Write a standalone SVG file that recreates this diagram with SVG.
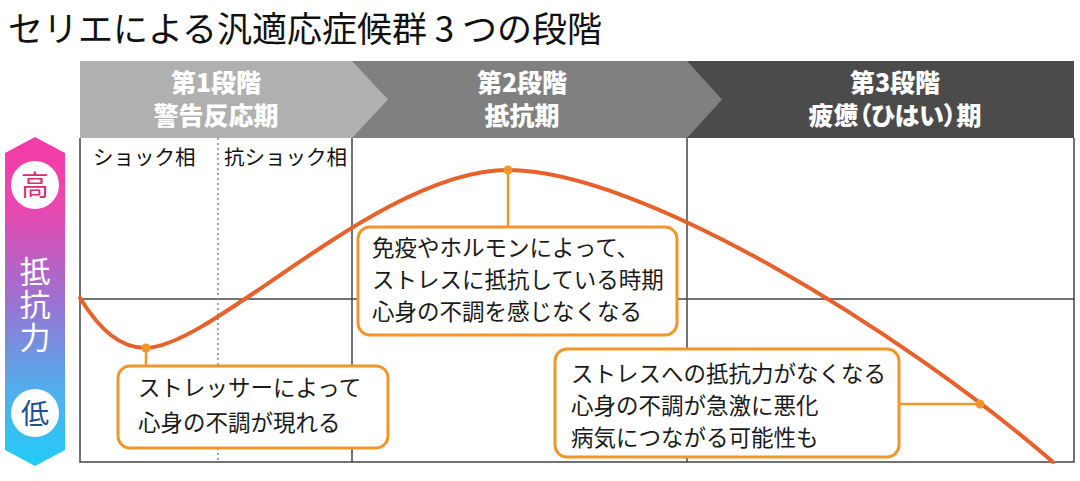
<svg xmlns="http://www.w3.org/2000/svg" width="1080" height="481" viewBox="0 0 1080 481">
<defs>
<linearGradient id="gauge" x1="0" y1="0" x2="0" y2="1">
<stop offset="0" stop-color="#f53aa6"/>
<stop offset="0.22" stop-color="#e848b0"/>
<stop offset="0.5" stop-color="#9a72d2"/>
<stop offset="0.78" stop-color="#4fb0ee"/>
<stop offset="1" stop-color="#22ccf5"/>
</linearGradient>
<style>
.jp{font-family:"Noto Sans CJK JP","Noto Sans",sans-serif;}
.title{font-size:35px;fill:#111;}
.hd{font-size:25px;font-weight:900;fill:#fff;text-anchor:middle;}
.palt{font-feature-settings:"palt";}
.sub{font-size:20.5px;fill:#111;}
.body{font-size:22.5px;fill:#1a1a1a;}
.grid{stroke:#444;stroke-width:1.5;fill:none;}
.box{fill:#fff;stroke:#f0962a;stroke-width:3;}
.lead{stroke:#f0962a;stroke-width:2.5;fill:none;}
.dot{fill:#f0962a;}
.curve{stroke:#e8602a;stroke-width:4;fill:none;stroke-linecap:round;}
</style>
</defs>

<text class="jp title" x="8" y="42">セリエによる汎適応症候群 3 つの段階</text>

<g id="gauge-node">
<polygon points="35,137 65,153 65,450 35,466 5,450 5,153" fill="url(#gauge)"/>
<circle cx="35" cy="185" r="24" fill="#fff"/>
<text class="jp" x="35" y="195.5" font-size="28" fill="#d6306e" text-anchor="middle">高</text>
<text class="jp" x="35" y="305" font-size="31" fill="#fff" text-anchor="middle" writing-mode="vertical-rl" letter-spacing="2">抵抗力</text>
<circle cx="35" cy="413" r="24" fill="#fff"/>
<text class="jp" x="35" y="423.5" font-size="28" fill="#1d4f94" text-anchor="middle">低</text>
</g>

<g id="stage3">
<rect x="687" y="61" width="387" height="77" fill="#4b4b4b"/>
<text class="jp hd" x="895" y="92">第3段階</text>
<text class="jp hd palt" x="895" y="125">疲憊（ひはい）期</text>
</g>
<g id="stage2">
<polygon points="352,61 687,61 722,99.5 687,138 352,138" fill="#808080"/>
<text class="jp hd" x="522" y="92">第2段階</text>
<text class="jp hd" x="522" y="125">抵抗期</text>
</g>
<g id="stage1">
<polygon points="80,61 352,61 388,99.5 352,138 80,138" fill="#b0b0b0"/>
<text class="jp hd" x="216" y="92">第1段階</text>
<text class="jp hd" x="216" y="125">警告反応期</text>
</g>

<g id="chart-grid">
<path class="grid" d="M80,138 V462 H1074 V138"/>
<line class="grid" x1="352" y1="138" x2="352" y2="462"/>
<line class="grid" x1="687" y1="138" x2="687" y2="462"/>
<line class="grid" x1="80" y1="299" x2="1074" y2="299"/>
<line x1="218" y1="138" x2="218" y2="462" stroke="#888" stroke-width="1.5" stroke-dasharray="2,3"/>
</g>

<g id="phase-labels">
<text class="jp sub" x="93" y="165">ショック相</text>
<text class="jp sub" x="224" y="165">抗ショック相</text>
</g>

<g id="connectors">
<path class="curve" d="M80,298 C100,330 120,348 146,348 C215,346 380,170 508,170 C640,170 900,330 1053,462"/>
<line class="lead" x1="146" y1="348" x2="146" y2="366"/>
<line class="lead" x1="508" y1="170" x2="508" y2="227"/>
<line class="lead" x1="899" y1="404" x2="980" y2="404"/>
<circle class="dot" cx="146" cy="348" r="4.5"/>
<circle class="dot" cx="508" cy="170" r="4.5"/>
<circle class="dot" cx="980" cy="404" r="4.5"/>
</g>

<g id="box-alarm">
<rect class="box" x="118" y="366" width="270" height="82" rx="12"/>
<text class="jp body" x="138" y="396">ストレッサーによって</text>
<text class="jp body" x="138" y="431">心身の不調が現れる</text>
</g>

<g id="box-resist">
<rect class="box" x="358" y="227" width="319" height="108" rx="12"/>
<text class="jp body" x="372" y="256">免疫やホルモンによって、</text>
<text class="jp body" x="372" y="288">ストレスに抵抗している時期</text>
<text class="jp body" x="372" y="320">心身の不調を感じなくなる</text>
</g>

<g id="box-exhaust">
<rect class="box" x="555" y="349" width="344" height="108" rx="12"/>
<text class="jp body" x="571" y="382">ストレスへの抵抗力がなくなる</text>
<text class="jp body" x="571" y="414">心身の不調が急激に悪化</text>
<text class="jp body" x="571" y="446">病気につながる可能性も</text>
</g>
</svg>
